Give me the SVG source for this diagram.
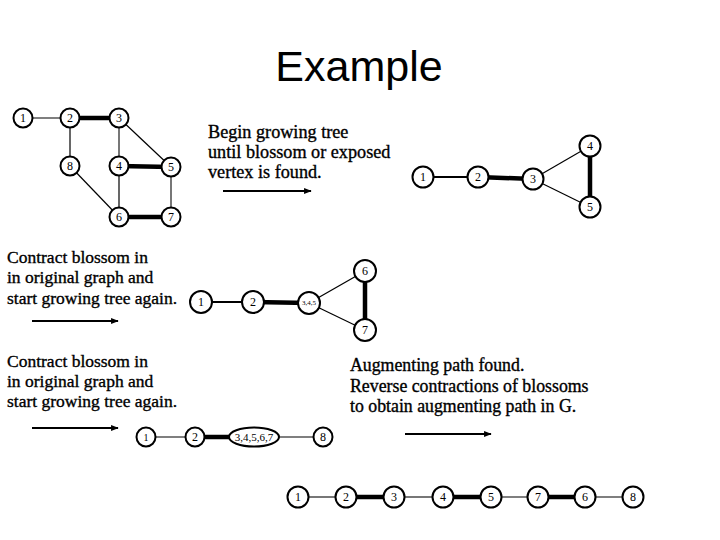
<svg xmlns="http://www.w3.org/2000/svg" width="720" height="540" viewBox="0 0 720 540">
<defs>
<style>
.nd circle,.nd ellipse{fill:#fff;stroke:#000;stroke-width:2}
.nd text{font-family:"Liberation Serif",serif;font-size:12px;text-anchor:middle;dominant-baseline:central;fill:#000}
.thin{stroke:#000;stroke-width:1.2;fill:none}
.med{stroke:#000;stroke-width:2;fill:none}
.thick{stroke:#000;stroke-width:4.5;fill:none}
.gray{stroke:#777;stroke-width:2;fill:none}
.arr{stroke:#000;stroke-width:2.2;fill:none;marker-end:url(#ah)}
.txt{font-family:"Liberation Serif",serif;fill:#000;stroke:#000;stroke-width:0.35}
</style>
<marker id="ah" viewBox="0 0 10 10" refX="9" refY="5" markerWidth="3.5" markerHeight="3.5" orient="auto" markerUnits="strokeWidth">
<path d="M0,1 L10,5 L0,9 z" fill="#000"/>
</marker>
</defs>
<rect width="720" height="540" fill="#fff"/>
<text x="359" y="81" font-family="Liberation Sans, Arial, sans-serif" font-size="43" text-anchor="middle">Example</text>

<g class="txt" font-size="18.2">
<text x="208" y="138">Begin growing tree</text>
<text x="208" y="158">until blossom or exposed</text>
<text x="208" y="178">vertex is found.</text>
</g>
<g class="txt" font-size="17.5">
<text x="7" y="262.5">Contract blossom in</text>
<text x="7" y="283">in original graph and</text>
<text x="7" y="303.5">start growing tree again.</text>
<text x="7" y="367">Contract blossom in</text>
<text x="7" y="387">in original graph and</text>
<text x="7" y="407">start growing tree again.</text>
</g>
<g class="txt" font-size="17.8">
<text x="350" y="371">Augmenting path found.</text>
<text x="350" y="391.5">Reverse contractions of blossoms</text>
<text x="350" y="411.5">to obtain augmenting path in G.</text>
</g>

<g id="connectors">
<!-- graph 1 -->
<line class="thin" x1="23" y1="118" x2="70" y2="118"/>
<line class="thick" x1="70" y1="118" x2="119" y2="118"/>
<line class="gray" x1="119" y1="118" x2="119" y2="166"/>
<line class="thin" x1="119" y1="118" x2="171" y2="167"/>
<line class="thin" x1="70" y1="118" x2="70" y2="166"/>
<line class="thick" x1="119" y1="166" x2="171" y2="167"/>
<line class="thin" x1="70" y1="166" x2="119" y2="217"/>
<line class="thin" x1="119" y1="166" x2="119" y2="217"/>
<line class="gray" x1="171" y1="167" x2="171" y2="217"/>
<line class="thick" x1="119" y1="217" x2="171" y2="217"/>
<!-- graph 2 -->
<line class="med" x1="423" y1="177" x2="478" y2="177"/>
<line class="thick" x1="478" y1="177" x2="533" y2="179"/>
<line class="thin" x1="533" y1="179" x2="590" y2="146"/>
<line class="thin" x1="533" y1="179" x2="590" y2="207"/>
<line class="thick" x1="590" y1="146" x2="590" y2="207"/>
<!-- graph 3 -->
<line class="med" x1="201" y1="302" x2="253" y2="302"/>
<line class="thick" x1="253" y1="302" x2="309" y2="303"/>
<line class="thin" x1="309" y1="303" x2="365" y2="271"/>
<line class="thin" x1="309" y1="303" x2="365" y2="330"/>
<line class="thick" x1="365" y1="271" x2="365" y2="330"/>
<!-- graph 4 -->
<line class="thin" x1="146" y1="437" x2="195" y2="437"/>
<line class="thick" x1="195" y1="437" x2="254" y2="437"/>
<line class="thin" x1="254" y1="437" x2="323" y2="437"/>
<!-- graph 5 -->
<line class="gray" x1="298" y1="497" x2="346" y2="497"/>
<line class="thick" x1="346" y1="497" x2="394" y2="497"/>
<line class="gray" x1="394" y1="497" x2="443" y2="497"/>
<line class="thick" x1="443" y1="497" x2="491" y2="497"/>
<line class="thin" x1="491" y1="497" x2="538" y2="497"/>
<line class="thick" x1="538" y1="497" x2="585" y2="497"/>
<line class="thin" x1="585" y1="497" x2="633" y2="497"/>
<!-- arrows -->
<line class="arr" x1="223" y1="191" x2="311" y2="191"/>
<line class="arr" x1="32" y1="321" x2="118" y2="321"/>
<line class="arr" x1="32" y1="428" x2="118" y2="428"/>
<line class="arr" x1="405" y1="434" x2="491" y2="434"/>
</g>

<g id="g1">
<g id="g1-n1" class="nd"><circle cx="23" cy="118" r="9.5"/><text x="23" y="118">1</text></g>
<g id="g1-n2" class="nd"><circle cx="70" cy="118" r="9.5"/><text x="70" y="118">2</text></g>
<g id="g1-n3" class="nd"><circle cx="119" cy="118" r="9.5"/><text x="119" y="118">3</text></g>
<g id="g1-n8" class="nd"><circle cx="70" cy="166" r="9.5"/><text x="70" y="166">8</text></g>
<g id="g1-n4" class="nd"><circle cx="119" cy="166" r="9.5"/><text x="119" y="166">4</text></g>
<g id="g1-n5" class="nd"><circle cx="171" cy="167" r="9.5"/><text x="171" y="167">5</text></g>
<g id="g1-n6" class="nd"><circle cx="119" cy="217" r="9.5"/><text x="119" y="217">6</text></g>
<g id="g1-n7" class="nd"><circle cx="171" cy="217" r="9.5"/><text x="171" y="217">7</text></g>
</g>
<g id="g2">
<g id="g2-n1" class="nd"><circle cx="423" cy="177" r="10.5"/><text x="423" y="177">1</text></g>
<g id="g2-n2" class="nd"><circle cx="478" cy="177" r="10.5"/><text x="478" y="177">2</text></g>
<g id="g2-n3" class="nd"><circle cx="533" cy="179" r="10.5"/><text x="533" y="179">3</text></g>
<g id="g2-n4" class="nd"><circle cx="590" cy="146" r="10.5"/><text x="590" y="146">4</text></g>
<g id="g2-n5" class="nd"><circle cx="590" cy="207" r="10.5"/><text x="590" y="207">5</text></g>
</g>
<g id="g3">
<g id="g3-n1" class="nd"><circle cx="201" cy="302" r="11"/><text x="201" y="302">1</text></g>
<g id="g3-n2" class="nd"><circle cx="253" cy="302" r="11"/><text x="253" y="302">2</text></g>
<g id="g3-n345" class="nd"><circle cx="309" cy="303" r="11"/><text x="309" y="303" style="font-size:7px">3,4,5</text></g>
<g id="g3-n6" class="nd"><circle cx="365" cy="271" r="11"/><text x="365" y="271">6</text></g>
<g id="g3-n7" class="nd"><circle cx="365" cy="330" r="11"/><text x="365" y="330">7</text></g>
</g>
<g id="g4">
<g id="g4-n1" class="nd"><circle cx="146" cy="437" r="9.5"/><text x="146" y="437" style="font-size:10px">1</text></g>
<g id="g4-n2" class="nd"><circle cx="195" cy="437" r="9.5"/><text x="195" y="437">2</text></g>
<g id="g4-n34567" class="nd"><ellipse cx="254" cy="437" rx="25" ry="9.5"/><text x="254" y="437" style="font-size:11px">3,4,5,6,7</text></g>
<g id="g4-n8" class="nd"><circle cx="323" cy="437" r="9.5"/><text x="323" y="437">8</text></g>
</g>
<g id="g5">
<g id="g5-n1" class="nd"><circle cx="298" cy="497" r="10.5"/><text x="298" y="497">1</text></g>
<g id="g5-n2" class="nd"><circle cx="346" cy="497" r="10.5"/><text x="346" y="497">2</text></g>
<g id="g5-n3" class="nd"><circle cx="394" cy="497" r="10.5"/><text x="394" y="497">3</text></g>
<g id="g5-n4" class="nd"><circle cx="443" cy="497" r="10.5"/><text x="443" y="497">4</text></g>
<g id="g5-n5" class="nd"><circle cx="491" cy="497" r="10.5"/><text x="491" y="497">5</text></g>
<g id="g5-n7" class="nd"><circle cx="538" cy="497" r="10.5"/><text x="538" y="497">7</text></g>
<g id="g5-n6" class="nd"><circle cx="585" cy="497" r="10.5"/><text x="585" y="497">6</text></g>
<g id="g5-n8" class="nd"><circle cx="633" cy="497" r="10.5"/><text x="633" y="497">8</text></g>
</g>
</svg>
